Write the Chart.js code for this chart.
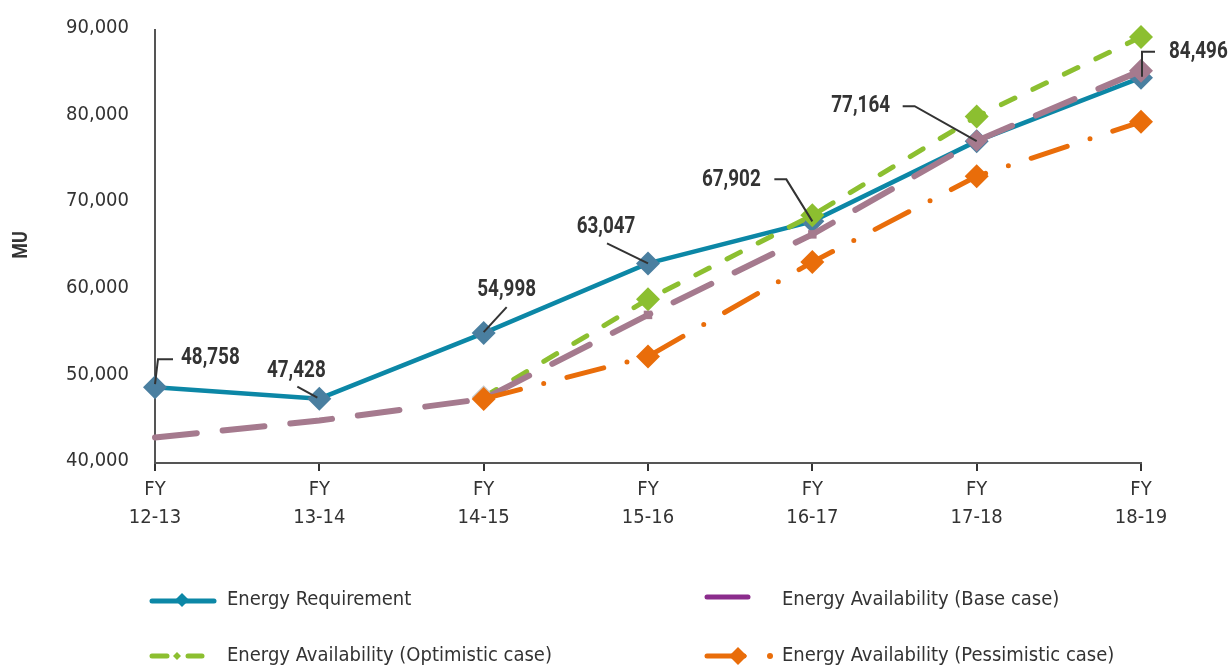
<!DOCTYPE html>
<html>
<head>
<meta charset="utf-8">
<script src="https://cdn.jsdelivr.net/npm/chart.js@4/dist/chart.umd.min.js"></script>
<style>
  html, body { margin: 0; padding: 0; background: #fff; }
  #c { display: block; }
</style>
</head>
<body>
<canvas id="c" width="1229" height="665"></canvas>
<script>
// Fiscal years on the x axis
const years = [["FY", "12-13"], ["FY", "13-14"], ["FY", "14-15"], ["FY", "15-16"], ["FY", "16-17"], ["FY", "17-18"], ["FY", "18-19"]];

// Energy figures in MU
const requirement = [48758, 47428, 54998, 63047, 67902, 77164, 84496];
const baseCase = [42950, 44900, 47400, 57100, 66400, 77200, 85300];
const optimisticCase = [null, null, 47600, 58900, 68600, 80000, 89200];
const pessimisticCase = [null, null, 47400, 52300, 63200, 73100, 79400];

// Y axis range
const yMin = 40000, yMax = 90000, yStep = 10000;

const FONT = '"DejaVu Sans Condensed", "DejaVu Sans", sans-serif';
const BOLD_FONT = 'Roboto, "DejaVu Sans Condensed", sans-serif';
const TEXT = '#333333';
const AXIS = '#555555';

const C_REQ_LINE = '#0C87A6';
const C_REQ_PT = '#4A7FA0';
const C_BASE = '#A57A8E';
const C_BASE_KEY = '#8B2C8C';
const C_OPT = '#8CBF30';
const C_PES = '#E96D0A';

// Leader lines and callout positions for the requirement labels (offsets from each point)
const callouts = [
  { leader: [[0, -3], [3, -28], [18, -28]], text: [26, -29], align: 'left' },
  { leader: [[-2, -1], [-22, -12]], text: [-23, -27], align: 'center' },
  { leader: [[0, -1], [23, -26]], text: [23, -43], align: 'center' },
  { leader: [[0, 0], [-41, -20]], text: [-42, -36], align: 'center' },
  { leader: [[0, 0], [-26, -42], [-38, -42]], text: [-81, -41], align: 'center' },
  { leader: [[0, 0], [-62, -35], [-74, -35]], text: [-116, -35], align: 'center' },
  { leader: [[1, -1], [1, -26], [14, -26]], text: [28, -25], align: 'left' }
];

// Bold narrow text: a regular face squeezed horizontally
function narrowText(ctx, str, x, y, align, size, sx) {
  ctx.save();
  ctx.translate(x, y);
  ctx.scale(sx, 1);
  ctx.font = 'bold ' + size + 'px ' + BOLD_FONT;
  ctx.textAlign = align;
  ctx.textBaseline = 'middle';
  ctx.fillText(str, 0, 0);
  ctx.restore();
}

const calloutPlugin = {
  id: 'callouts',
  afterDatasetsDraw(chart) {
    const ctx = chart.ctx;
    const xs = chart.scales.x, ys = chart.scales.y;
    ctx.save();
    requirement.forEach((v, i) => {
      const px = xs.getPixelForValue(i);
      const py = ys.getPixelForValue(v);
      const c = callouts[i];
      ctx.strokeStyle = '#333';
      ctx.lineWidth = 2;
      ctx.beginPath();
      c.leader.forEach((p, k) => {
        if (k === 0) ctx.moveTo(px + p[0], py + p[1]);
        else ctx.lineTo(px + p[0], py + p[1]);
      });
      ctx.stroke();
      ctx.fillStyle = TEXT;
      narrowText(ctx, v.toLocaleString('en-US'), px + c.text[0], py + c.text[1], c.align, 23, 0.82);
    });
    ctx.restore();
  }
};

function diamond(ctx, x, y, r, color) {
  ctx.fillStyle = color;
  ctx.beginPath();
  ctx.moveTo(x - r, y);
  ctx.lineTo(x, y - r);
  ctx.lineTo(x + r, y);
  ctx.lineTo(x, y + r);
  ctx.closePath();
  ctx.fill();
}

// Legend block under the chart
const legendPlugin = {
  id: 'legendBlock',
  afterDraw(chart) {
    const ctx = chart.ctx;
    ctx.save();
    ctx.lineCap = 'round';
    ctx.font = '20px ' + FONT;
    ctx.fillStyle = TEXT;
    ctx.textBaseline = 'middle';
    ctx.textAlign = 'left';

    // Energy Requirement
    ctx.strokeStyle = C_REQ_LINE; ctx.lineWidth = 5;
    ctx.beginPath(); ctx.moveTo(152, 601); ctx.lineTo(214, 601); ctx.stroke();
    diamond(ctx, 182, 600, 7, C_REQ_LINE);
    ctx.fillStyle = TEXT;
    ctx.fillText('Energy Requirement', 227, 600);

    // Base case
    ctx.strokeStyle = C_BASE_KEY; ctx.lineWidth = 5;
    ctx.beginPath(); ctx.moveTo(707, 597); ctx.lineTo(748, 597); ctx.stroke();
    ctx.fillStyle = TEXT;
    ctx.fillText('Energy Availability (Base case)', 782, 600);

    // Optimistic case
    ctx.strokeStyle = C_OPT; ctx.lineWidth = 5;
    ctx.beginPath(); ctx.moveTo(152, 656); ctx.lineTo(167, 656); ctx.stroke();
    ctx.beginPath(); ctx.moveTo(188, 656); ctx.lineTo(202, 656); ctx.stroke();
    diamond(ctx, 177, 656, 4, C_OPT);
    ctx.fillStyle = TEXT;
    ctx.fillText('Energy Availability (Optimistic case)', 227, 656);

    // Pessimistic case
    ctx.strokeStyle = C_PES; ctx.lineWidth = 5;
    ctx.beginPath(); ctx.moveTo(707, 656); ctx.lineTo(744, 656); ctx.stroke();
    diamond(ctx, 738, 656, 9, C_PES);
    ctx.beginPath(); ctx.arc(770, 656, 3, 0, Math.PI * 2); ctx.fillStyle = C_PES; ctx.fill();
    ctx.fillStyle = TEXT;
    ctx.fillText('Energy Availability (Pessimistic case)', 782, 656);
    ctx.restore();
  }
};

// Rotated axis title
const axisTitlePlugin = {
  id: 'axisTitle',
  afterDraw(chart) {
    const ctx = chart.ctx;
    ctx.save();
    ctx.translate(22, 245);
    ctx.rotate(-Math.PI / 2);
    ctx.fillStyle = TEXT;
    narrowText(ctx, 'MU', 0, 0, 'center', 21, 0.85);
    ctx.restore();
  }
};

new Chart(document.getElementById('c'), {
  type: 'line',
  data: {
    labels: years,
    datasets: [
      {
        label: 'Energy Requirement',
        data: requirement,
        borderColor: C_REQ_LINE,
        borderWidth: 4.5,
        pointStyle: 'rectRot',
        pointRadius: 12,
        pointBackgroundColor: C_REQ_PT,
        pointBorderWidth: 0,
        order: 4,
        clip: false
      },
      {
        label: 'Energy Availability (Optimistic case)',
        data: optimisticCase,
        borderColor: C_OPT,
        borderWidth: 5,
        borderDash: [15, 20],
        borderCapStyle: 'round',
        pointStyle: 'rectRot',
        pointRadius: 12,
        pointBackgroundColor: ['#fff', '#fff', '#C8C8C8', C_OPT, C_OPT, C_OPT, C_OPT],
        pointBorderWidth: 0,
        order: 3,
        clip: false
      },
      {
        label: 'Energy Availability (Base case)',
        data: baseCase,
        borderColor: C_BASE,
        borderWidth: 6,
        borderDash: [42, 26],
        borderCapStyle: 'round',
        pointStyle: ['rect', 'rect', 'rect', 'rect', 'rect', 'rectRot', 'rectRot'],
        pointRadius: [0, 0, 0, 6, 6, 11, 12],
        pointBackgroundColor: C_BASE,
        pointBorderWidth: 0,
        order: 2,
        clip: false
      },
      {
        label: 'Energy Availability (Pessimistic case)',
        data: pessimisticCase,
        borderColor: C_PES,
        borderWidth: 5,
        borderDash: [38, 24, 0, 24],
        borderCapStyle: 'round',
        pointStyle: 'rectRot',
        pointRadius: 12,
        pointBackgroundColor: C_PES,
        pointBorderWidth: 0,
        order: 1,
        clip: false
      }
    ]
  },
  options: {
    responsive: false,
    animation: false,
    layout: { autoPadding: false, padding: { left: 0, right: 88, top: 25, bottom: 130 } },
    elements: { line: { tension: 0 } },
    plugins: {
      legend: { display: false },
      tooltip: { enabled: false }
    },
    scales: {
      x: {
        type: 'category',
        offset: false,
        afterFit(scale) { scale.height = 72; },
        grid: { drawOnChartArea: false, drawTicks: true, tickLength: 8, color: '#333', lineWidth: 2 },
        border: { display: true, color: AXIS, width: 2 },
        ticks: { color: TEXT, font: { family: FONT, size: 20, lineHeight: 1.4 }, padding: 5, maxRotation: 0 }
      },
      y: {
        min: yMin,
        max: yMax,
        afterFit(scale) { scale.width = 155; },
        grid: { display: false },
        border: { display: true, color: AXIS, width: 2 },
        ticks: {
          stepSize: yStep,
          color: TEXT,
          padding: 18,
          labelOffset: -2,
          font: { family: FONT, size: 20 },
          callback: v => v.toLocaleString('en-US')
        }
      }
    }
  },
  plugins: [calloutPlugin, legendPlugin, axisTitlePlugin]
});
</script>
</body>
</html>
